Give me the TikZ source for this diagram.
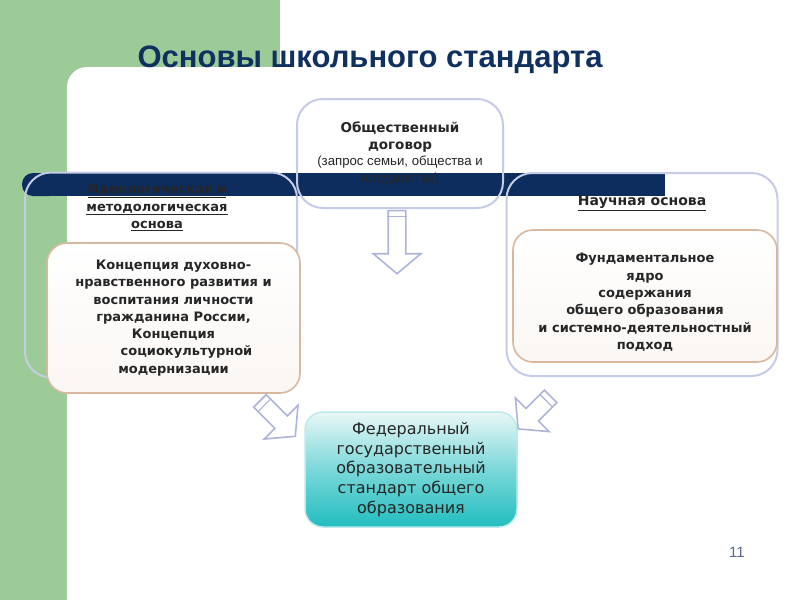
\documentclass[tikz,border=0pt]{standalone}
\usepackage{fontspec}
\setmainfont{DejaVu Sans}
\newfontfamily\arialfont{Liberation Sans}
\usetikzlibrary{positioning,shapes.arrows,calc}

\definecolor{slidegreen}{HTML}{9CCB98}
\definecolor{navyband}{HTML}{0D2D5E}
\definecolor{titleblue}{HTML}{10305F}
\definecolor{framegray}{HTML}{C6CBE6}
\definecolor{arrowgray}{HTML}{AEB4DC}
\definecolor{frametan}{HTML}{D9B8A0}
\definecolor{tealdark}{HTML}{22BDBF}
\definecolor{teallight}{HTML}{EAF7F7}
\definecolor{pagegray}{HTML}{5C6C88}

\newcommand\requestfont{\arialfont\mdseries\fontsize{13.2}{16.5}\selectfont}

\begin{document}
\begin{tikzpicture}[
        x=1pt, y=-1pt,
        outerbox/.style={draw=framegray, line width=2pt, rounded corners=26pt},
        innerbox/.style={draw=frametan, line width=1.6pt, rounded corners=20pt,
            top color=white, bottom color=frametan!12, align=center,
            font=\bfseries\fontsize{13}{17.3}\selectfont, text=black!85},
        headlabel/.style={align=center, font=\bfseries\fontsize{13}{17.5}\selectfont, text=black!85},
        hollowarrow/.style={single arrow, draw=arrowgray, line width=1.6pt, fill=white,
            inner sep=8pt, single arrow head extend=15pt, single arrow tip angle=100}
    ]
    \useasboundingbox (0,0) rectangle (800,600);

    % slide background
    \fill[slidegreen] (0,0) rectangle (800,600);
    \fill[white] (280,0) rectangle (800,67);
    \fill[white, rounded corners=20pt] (67,67) rectangle (830,630);

    \node[font=\arialfont\bfseries\fontsize{31}{36}\selectfont, text=titleblue] (title) at (370,60) {Основы школьного стандарта};

    % dark band behind the three upper boxes
    \fill[navyband] (40,173) rectangle (665,196);
    \fill[navyband, rounded corners=11pt] (22,173) rectangle (60,196);

    % upper boxes
    \node[outerbox, minimum width=272pt, minimum height=205pt] (ideo) at (161,275) {};
    \node[outerbox, minimum width=271pt, minimum height=203pt] (science) at (642,274.5) {};
    \node[outerbox, minimum width=206pt, minimum height=109pt, align=center,
        font=\bfseries\fontsize{13.5}{17}\selectfont, text=black!85] (contract) at (400,153.5) {
        Общественный\\ договор\\[-1pt]
        \requestfont (запрос семьи, общества и\\ \requestfont государства)};

    \node[headlabel, below=9pt of ideo.north, xshift=-4pt] (ideolabel) {
        \underline{Идеологическая и}\\ \underline{методологическая}\\ \underline{основа}};
    \node[headlabel, font=\bfseries\fontsize{14}{17.5}\selectfont, below=20pt of science.north] (sciencelabel) {\underline{Научная основа}};

    \node[innerbox, minimum width=253pt, minimum height=150pt] (concept) at (173.5,318) {
        Концепция духовно-\\ нравственного развития и\\ воспитания личности\\
        гражданина России,\\ Концепция\\ \hspace*{2em}социокультурной\\ модернизации};
    \node[innerbox, minimum width=264pt, minimum height=132pt] (core) at (645,296) {
        \rule{0pt}{22pt}Фундаментальное\\ ядро\\ содержания\\ общего образования\\
        и системно-деятельностный\\ подход};

    % result box
    \node[draw=white!70!tealdark, line width=1.5pt, rounded corners=18pt,
        top color=teallight, bottom color=tealdark, middle color=tealdark!60,
        minimum width=212pt, minimum height=115pt, align=center,
        font=\fontsize{16}{19.7}\selectfont, text=black!85] (fgos) at (411,469.5) {
        Федеральный\\ государственный\\ образовательный\\ стандарт общего\\ образования};

    % hollow arrows
    \node[hollowarrow, minimum height=63pt, rotate=-90] (downarrow) at (397,238.5) {};
    \node[hollowarrow, minimum height=50pt, rotate=-45] (leftarrow) at (275,416) {};
    \node[hollowarrow, minimum height=46pt, rotate=-135] (rightarrow) at (537,410) {};
    \foreach \a in {downarrow,leftarrow,rightarrow}
        \draw[arrowgray, line width=1.2pt]
            ($(\a.before tail)!7pt!(\a.after head)$) -- ($(\a.after tail)!7pt!(\a.before head)$);

    \node[font=\arialfont\fontsize{15}{17}\selectfont, text=pagegray] (pagenum) at (737,552) {11};
\end{tikzpicture}
\end{document}
